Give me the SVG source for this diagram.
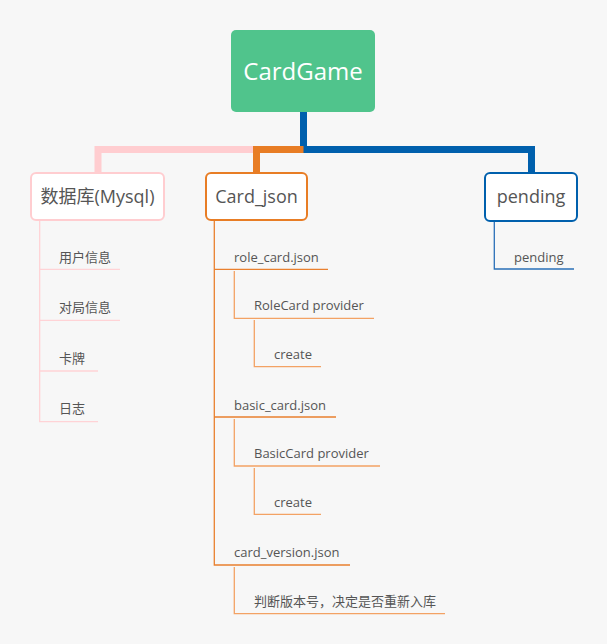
<svg xmlns="http://www.w3.org/2000/svg" width="607" height="644" viewBox="0 0 607 644">
<style>
.t{font-family:"Open Sans","Noto Sans CJK SC",sans-serif;fill:#555555}
.s{font-size:13px}
.m{font-size:18px}
.l1{fill:none;stroke:#e9802f;stroke-width:1.3}
.l2{fill:none;stroke:#f3a264;stroke-width:1.3}
.lp{fill:none;stroke:#ffd3d6;stroke-width:1.3}
.lb{fill:none;stroke:#2a70b8;stroke-width:1.3}
</style>
<rect width="607" height="644" fill="#f7f7f7"/>
<g id="connectors">
<path d="M303.5 112V149.5H531.5V172" fill="none" stroke="#0060ad" stroke-width="7"/>
<path d="M256.5 172V149.5H303.5" fill="none" stroke="#e87d25" stroke-width="7"/>
<path d="M98 172V149.5H253" fill="none" stroke="#ffcdd0" stroke-width="7"/>
<path class="lp" d="M39.7 221V421.7H98M39.7 269.3H120M39.7 320.3H120M39.7 371H98"/>
<path class="l1" d="M214.3 221V565H350M214.3 269.3H328M214.3 417H336"/>
<path class="l2" d="M234.3 271V318.3H374M254.3 320V366.7H321M234.3 419V466H380M254.3 468V514.3H321M234.3 567V613.7H445"/>
<path class="lb" d="M494.3 222V269H574"/>
</g>
<g id="root">
<rect x="231" y="30" width="144" height="82" rx="5" fill="#50c48c"/>
<text x="303" y="80" text-anchor="middle" font-family="'Open Sans','Noto Sans CJK SC',sans-serif" font-size="24" fill="#ffffff">CardGame</text>
</g>
<g id="db">
<rect x="31" y="173" width="133" height="47" rx="5" fill="#ffffff" stroke="#ffcdd0" stroke-width="2"/>
<text class="t m" x="97.5" y="203" text-anchor="middle">数据库(Mysql)</text>
</g>
<g id="cardjson">
<rect x="206" y="173" width="101" height="47" rx="5" fill="#ffffff" stroke="#e87d25" stroke-width="2"/>
<text class="t m" x="256.5" y="203" text-anchor="middle">Card_json</text>
</g>
<g id="pending">
<rect x="485" y="173" width="92" height="48" rx="5" fill="#ffffff" stroke="#0060ad" stroke-width="2"/>
<text class="t m" x="531" y="203" text-anchor="middle">pending</text>
</g>
<g id="db-items">
<text class="t s" x="59" y="262">用户信息</text>
<text class="t s" x="59" y="312">对局信息</text>
<text class="t s" x="59" y="363">卡牌</text>
<text class="t s" x="59" y="413">日志</text>
</g>
<g id="card-items">
<text class="t s" x="234" y="262">role_card.json</text>
<text class="t s" x="254" y="310">RoleCard provider</text>
<text class="t s" x="274" y="359">create</text>
<text class="t s" x="234" y="410">basic_card.json</text>
<text class="t s" x="254" y="458">BasicCard provider</text>
<text class="t s" x="274" y="507">create</text>
<text class="t s" x="234" y="557">card_version.json</text>
<text class="t s" x="254" y="606">判断版本号，决定是否重新入库</text>
</g>
<g id="pending-items">
<text class="t s" x="514" y="262">pending</text>
</g>
</svg>
